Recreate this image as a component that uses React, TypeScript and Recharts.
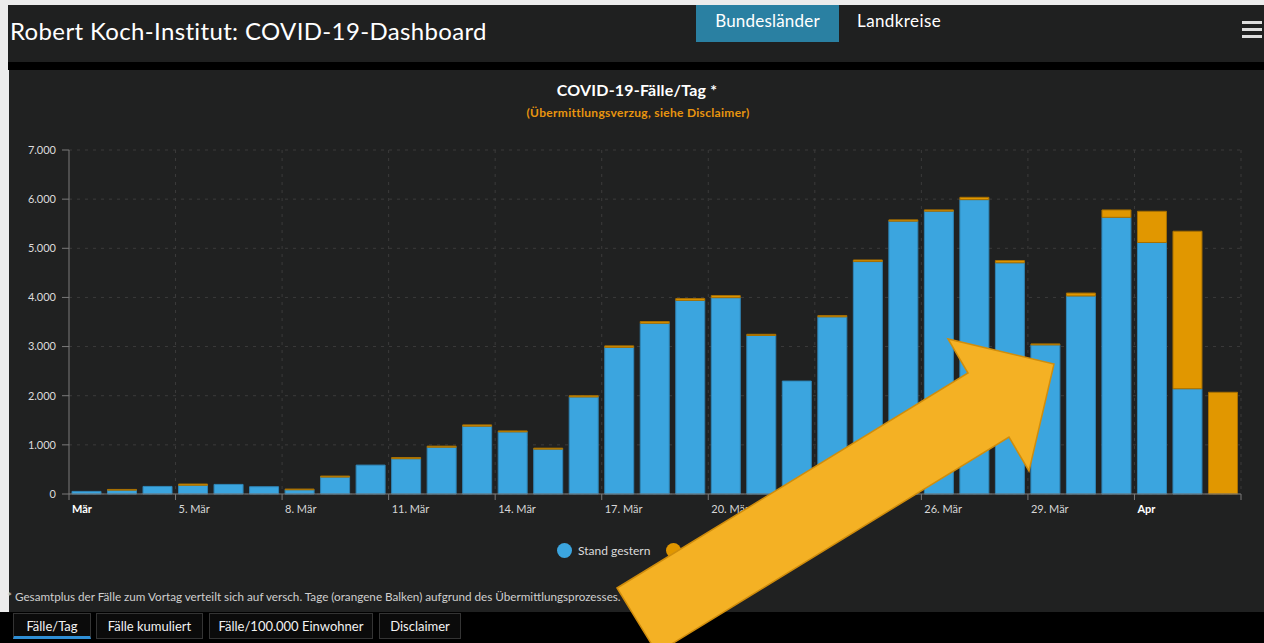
import React from "react";
import { BarChart, Bar, XAxis, YAxis, CartesianGrid, Legend } from "recharts";

// Fälle pro Meldetag, 2. März bis 3. April
const days = [
  "2. Mär", "3. Mär", "4. Mär", "5. Mär", "6. Mär", "7. Mär", "8. Mär", "9. Mär", "10. Mär", "11. Mär",
  "12. Mär", "13. Mär", "14. Mär", "15. Mär", "16. Mär", "17. Mär", "18. Mär", "19. Mär", "20. Mär",
  "21. Mär", "22. Mär", "23. Mär", "24. Mär", "25. Mär", "26. Mär", "27. Mär", "28. Mär", "29. Mär",
  "30. Mär", "31. Mär", "1. Apr", "2. Apr", "3. Apr",
];
const standGestern = [
  53, 78, 154, 178, 195, 148, 86, 345, 588, 718,
  952, 1380, 1264, 913, 1975, 2984, 3474, 3940, 3995,
  3225, 2298, 3605, 4730, 5552, 5755, 5990, 4705, 3034,
  4030, 5630, 5118, 2142, 0,
];
const zuwachs = [
  0, 15, 0, 25, 0, 0, 15, 20, 0, 24,
  22, 26, 20, 20, 25, 30, 35, 36, 42,
  25, 0, 25, 32, 26, 26, 47, 45, 20,
  59, 150, 635, 3205, 2070,
];
const yTicks = [0, 1000, 2000, 3000, 4000, 5000, 6000, 7000];
const monthLabels: Record<string, string> = { "2. Mär": "Mär", "1. Apr": "Apr" };

const data = days.map((day, i) => ({ day, stand: standGestern[i], neu: zuwachs[i] }));

const BLUE = "#3ba5df";
const ORANGE = "#e19700";
const FONT = "Lato, 'Open Sans', sans-serif";
const AXIS = "#7a7a7a";

const fmt = (v: number) => v.toLocaleString("de-DE");

const DayTick = (props: any) => {
  const { x, y, payload, index } = props;
  const half = payload?.offset ?? 17.76;
  const x0 = x - half;
  const axisY = y - 6;
  const show = index % 3 === 0;
  const month = monthLabels[payload.value];
  return (
    <g>
      {show && <line x1={x0} y1={axisY} x2={x0} y2={axisY + 6} stroke={AXIS} />}
      {index === days.length - 1 && (
        <line x1={x + half} y1={axisY} x2={x + half} y2={axisY + 6} stroke={AXIS} />
      )}
      {show && (
        <text
          x={x0 + 3}
          y={y + 13}
          textAnchor="start"
          fontFamily={FONT}
          fontSize={11}
          fontWeight={month ? 700 : 400}
          fill={month ? "#ffffff" : "#d6d6d6"}
        >
          {month ?? payload.value}
        </text>
      )}
    </g>
  );
};

const LegendContent = () => (
  <div style={{ display: "flex", alignItems: "center", fontFamily: FONT, fontSize: 12, color: "#dcdcdc" }}>
    <span style={{ width: 15, height: 15, borderRadius: "50%", background: BLUE, display: "inline-block" }} />
    <span style={{ marginLeft: 6 }}>Stand gestern</span>
    <span
      style={{ width: 15, height: 15, borderRadius: "50%", background: ORANGE, display: "inline-block", marginLeft: 16 }}
    />
    <span style={{ marginLeft: 6 }}>Zuwachs zum Vortag</span>
  </div>
);

const Tab = ({ label, left, width, active }: { label: string; left: number; width: number; active?: boolean }) => (
  <div
    style={{
      position: "absolute",
      left,
      top: 613,
      width,
      height: 26,
      boxSizing: "border-box",
      border: "1px solid #343434",
      borderBottom: active ? "3px solid #2f8fd6" : "1px solid #343434",
      background: "#0b0b0b",
      color: "#f2f2f2",
      fontSize: 13,
      lineHeight: "24px",
      textAlign: "center",
    }}
  >
    {label}
  </div>
);

export default function App() {
  return (
    <div
      style={{
        position: "fixed",
        left: 0,
        top: 0,
        width: 1264,
        height: 643,
        overflow: "hidden",
        background: "#ececec",
        fontFamily: FONT,
      }}
    >
      {/* Kopfzeile */}
      <div style={{ position: "absolute", left: 8, top: 5, width: 1256, height: 57, background: "#1f2020" }} />
      <div style={{ position: "absolute", left: 8, top: 62, width: 1256, height: 8, background: "#000" }} />
      <div
        style={{
          position: "absolute",
          left: 10,
          top: 16,
          color: "#fff",
          fontSize: 24,
          letterSpacing: 0.35,
          whiteSpace: "nowrap",
        }}
      >
        Robert Koch-Institut: COVID-19-Dashboard
      </div>
      <div
        style={{
          position: "absolute",
          left: 696,
          top: 5,
          width: 143,
          height: 37,
          background: "#2a80a2",
          color: "#fff",
          fontSize: 17,
          letterSpacing: 0.2,
          textAlign: "center",
          lineHeight: "32px",
        }}
      >
        Bundesländer
      </div>
      <div
        style={{
          position: "absolute",
          left: 857,
          top: 5,
          color: "#fff",
          fontSize: 17,
          letterSpacing: 0.4,
          lineHeight: "32px",
        }}
      >
        Landkreise
      </div>
      {[21, 28, 35].map((t) => (
        <div key={t} style={{ position: "absolute", left: 1242, top: t, width: 20, height: 3, background: "#ddd" }} />
      ))}

      {/* Diagrammfläche */}
      <div style={{ position: "absolute", left: 9, top: 70, width: 1255, height: 542, background: "#202121" }} />
      <div
        style={{
          position: "absolute",
          left: 0,
          top: 80,
          width: 1274,
          textAlign: "center",
          color: "#fff",
          fontSize: 16,
          letterSpacing: 0.2,
          fontWeight: 700,
        }}
      >
        COVID-19-Fälle/Tag *
      </div>
      <div
        style={{
          position: "absolute",
          left: 0,
          top: 105,
          width: 1276,
          textAlign: "center",
          color: "#e8950f",
          fontSize: 12,
          letterSpacing: 0.3,
          fontWeight: 700,
        }}
      >
        (Übermittlungsverzug, siehe Disclaimer)
      </div>

      <div style={{ position: "absolute", left: 0, top: 0 }}>
        <BarChart
          width={1264}
          height={643}
          data={data}
          margin={{ top: 150, right: 23, bottom: 119, left: 19 }}
          style={{ fontFamily: FONT }}
        >
          <CartesianGrid
            stroke="#3b3b3b"
            strokeDasharray="3 5"
            verticalCoordinatesGenerator={({ offset }: any) => {
              const bw = offset.width / days.length;
              const xs: number[] = [];
              for (let i = 3; i <= days.length; i += 3) xs.push(offset.left + i * bw);
              return xs;
            }}
          />
          <XAxis
            dataKey="day"
            interval={0}
            height={30}
            axisLine={{ stroke: AXIS }}
            tickLine={false}
            tickSize={6}
            tickMargin={0}
            tick={<DayTick />}
          />
          <YAxis
            width={50}
            domain={[0, 7000]}
            ticks={yTicks}
            tickFormatter={fmt}
            axisLine={{ stroke: AXIS }}
            tickLine={{ stroke: AXIS }}
            tickSize={7}
            tickMargin={6}
            tick={{ fill: "#dcdcdc", fontSize: 11, fontFamily: FONT }}
          />
          <Legend
            layout="horizontal"
            verticalAlign="middle"
            align="center"
            content={<LegendContent />}
            wrapperStyle={{ top: 543, left: 557, width: "auto" }}
          />
          <Bar
            dataKey="stand"
            name="Stand gestern"
            stackId="a"
            fill={BLUE}
            stroke="#2f85b6"
            strokeWidth={1}
            barSize={29}
            isAnimationActive={false}
          />
          <Bar
            dataKey="neu"
            name="Zuwachs zum Vortag"
            stackId="a"
            fill={ORANGE}
            stroke="#a87000"
            strokeWidth={1}
            barSize={29}
            isAnimationActive={false}
          />
        </BarChart>
      </div>

      {/* Fußnote und Reiter */}
      <div
        style={{
          position: "absolute",
          left: 7,
          top: 589,
          color: "#cfcfcf",
          fontSize: 11.7,
          whiteSpace: "nowrap",
        }}
      >
        * Gesamtplus der Fälle zum Vortag verteilt sich auf versch. Tage (orangene Balken) aufgrund des
        Übermittlungsprozesses.
      </div>
      <div style={{ position: "absolute", left: 0, top: 612, width: 1264, height: 31, background: "#000" }} />
      <Tab label="Fälle/Tag" left={13} width={78} active />
      <Tab label="Fälle kumuliert" left={96} width={107} />
      <Tab label="Fälle/100.000 Einwohner" left={209} width={164} />
      <Tab label="Disclaimer" left={379} width={82} />

      {/* Pfeil */}
      <svg width={1264} height={643} style={{ position: "absolute", left: 0, top: 0, pointerEvents: "none" }}>
        <polygon
          points="617,588 968,373 948,339 1054,364 1029,471 1009,437 657,653"
          fill="#f4b124"
          stroke="#d08d0c"
          strokeWidth={1.5}
          strokeLinejoin="miter"
        />
      </svg>
    </div>
  );
}
